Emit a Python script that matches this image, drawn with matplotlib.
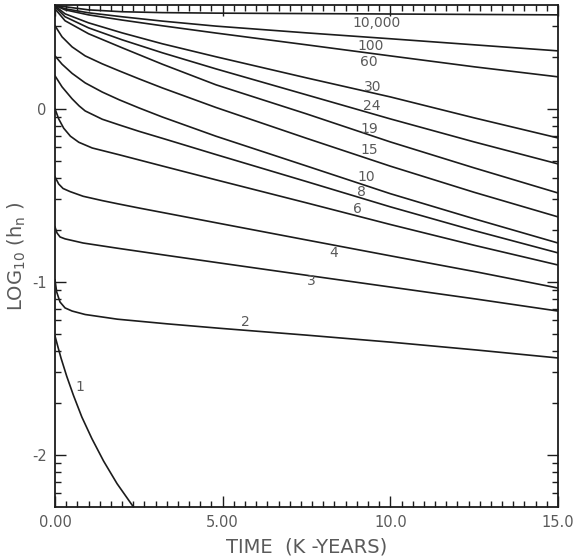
import numpy as np
import matplotlib
matplotlib.use("Agg")
import matplotlib.pyplot as plt

# log10(h_n) vs time (k-years) for each mode number n
t_10000 = [0, 0.3, 1.0, 2.0, 3.2, 4.8, 10.0, 15.0]
h_10000 = [0.598, 0.590, 0.572, 0.561, 0.556, 0.553, 0.548, 0.543]

t_100 = [0, 0.3, 1.0, 2.0, 3.2, 4.8, 7.5, 10.0, 12.5, 15.0]
h_100 = [0.598, 0.578, 0.555, 0.532, 0.507, 0.478, 0.439, 0.405, 0.370, 0.335]

t_60 = [0, 0.3, 1.0, 2.0, 3.2, 4.8, 7.5, 10.0, 12.5, 15.0]
h_60 = [0.598, 0.572, 0.543, 0.513, 0.480, 0.438, 0.370, 0.306, 0.243, 0.185]

t_30 = [0, 0.3, 1.0, 2.0, 3.2, 4.8, 7.5, 10.0, 12.5, 15.0]
h_30 = [0.595, 0.549, 0.497, 0.439, 0.376, 0.301, 0.179, 0.069, -0.052, -0.168]

t_24 = [0, 0.3, 1.0, 2.0, 3.2, 4.8, 7.5, 10.0, 12.5, 15.0]
h_24 = [0.590, 0.532, 0.468, 0.399, 0.324, 0.231, 0.081, -0.058, -0.191, -0.318]

t_19 = [0, 0.3, 1.0, 2.0, 3.2, 4.8, 7.5, 10.0, 12.5, 15.0]
h_19 = [0.578, 0.509, 0.434, 0.353, 0.258, 0.139, -0.029, -0.191, -0.341, -0.486]

t_15 = [0, 0.21, 0.51, 0.9, 1.41, 1.92, 2.51, 3.2, 4.8, 7.5, 10.0, 12.5, 15.0]
h_15 = [0.480, 0.416, 0.358, 0.306, 0.260, 0.219, 0.173, 0.121, 0.008, -0.170, -0.331, -0.482, -0.624]

t_10 = [0, 0.21, 0.51, 0.9, 1.41, 1.92, 2.51, 3.2, 4.8, 7.5, 10.0, 12.5, 15.0]
h_10 = [0.306, 0.258, 0.205, 0.150, 0.097, 0.052, 0.005, -0.047, -0.158, -0.330, -0.490, -0.635, -0.775]

t_8 = [0, 0.21, 0.51, 0.72, 0.9, 1.41, 1.92, 2.51, 3.2, 4.8, 7.5, 10.0, 12.5, 15.0]
h_8 = [0.191, 0.127, 0.058, 0.017, -0.012, -0.060, -0.093, -0.130, -0.170, -0.264, -0.420, -0.566, -0.703, -0.832]

t_6 = [0, 0.11, 0.26, 0.46, 0.71, 1.11, 1.91, 3.2, 4.8, 7.5, 10.0, 12.5, 15.0]
h_6 = [0.0, -0.058, -0.112, -0.158, -0.193, -0.226, -0.265, -0.330, -0.410, -0.543, -0.668, -0.788, -0.902]

t_4 = [0, 0.11, 0.24, 0.45, 0.84, 1.41, 1.86, 2.51, 3.35, 4.94, 7.49, 10.03, 12.57, 15.0]
h_4 = [-0.393, -0.434, -0.460, -0.478, -0.505, -0.530, -0.548, -0.573, -0.604, -0.663, -0.757, -0.850, -0.942, -1.035]

t_3 = [0, 0.06, 0.15, 0.30, 0.84, 1.86, 3.35, 4.94, 7.49, 10.03, 12.57, 15.0]
h_3 = [-0.682, -0.717, -0.740, -0.751, -0.775, -0.805, -0.847, -0.891, -0.961, -1.030, -1.099, -1.168]

t_2 = [0, 0.05, 0.15, 0.30, 0.51, 0.90, 1.86, 3.35, 4.94, 7.49, 10.03, 12.57, 15.0]
h_2 = [-0.988, -1.058, -1.116, -1.150, -1.168, -1.188, -1.215, -1.242, -1.268, -1.307, -1.348, -1.393, -1.439]

t_1 = [0, 0.08, 0.18, 0.35, 0.55, 0.8, 1.1, 1.45, 1.85, 2.34]
h_1 = [-1.312, -1.370, -1.440, -1.545, -1.655, -1.780, -1.905, -2.035, -2.165, -2.300]

# curve labels: text, time, log10(h)
label_text = ["10,000", "100", "60", "30", "24", "19", "15", "10", "8", "6", "4", "3", "2", "1"]
label_t = [9.58, 9.40, 9.37, 9.46, 9.46, 9.37, 9.37, 9.28, 9.13, 9.01, 8.32, 7.63, 5.69, 0.75]
label_h = [0.497, 0.364, 0.272, 0.127, 0.017, -0.116, -0.237, -0.393, -0.480, -0.578, -0.832, -0.994, -1.231, -1.607]

x_major = [0, 5, 10, 15]
x_major_labels = ["0.00", "5.00", "10.0", "15.0"]
y_major = [-2, -1, 0]
y_major_labels = ["-2", "-1", "0"]

plt.rcParams["font.family"] = ["DejaVu Sans"]
plt.rcParams["mathtext.default"] = "regular"
plt.rcParams["axes.unicode_minus"] = False

ink = "#1c1c1c"
txt = "#5a5a5a"

fig = plt.figure(figsize=(5.73, 5.58), dpi=100)
ax = fig.add_axes([55 / 573, 51 / 558, 503 / 573, 502 / 558])

curves = [(t_10000, h_10000), (t_100, h_100), (t_60, h_60), (t_30, h_30),
          (t_24, h_24), (t_19, h_19), (t_15, h_15), (t_10, h_10), (t_8, h_8),
          (t_6, h_6), (t_4, h_4), (t_3, h_3), (t_2, h_2), (t_1, h_1)]
for t, h in curves:
    ax.plot(t, h, color=ink, lw=1.2, solid_joinstyle="round")

for s, tx, hy in zip(label_text, label_t, label_h):
    ax.text(tx, hy, s, fontsize=10, color=txt, ha="center", va="center")

ax.set_xlim(0, 15)
ax.set_ylim(-2.3, 0.6)

ax.set_xticks(x_major)
ax.set_xticklabels(x_major_labels)
ax.set_xticks(np.arange(0, 15.01, 1 / 3), minor=True)
ax.set_yticks(y_major)
ax.set_yticklabels(y_major_labels)
ymin = [n + np.log10(k) for n in range(-3, 1) for k in range(2, 10)]
ax.set_yticks([v for v in ymin if -2.3 <= v <= 0.6], minor=True)

ax.tick_params(which="both", direction="in", top=True, right=True,
               color=ink, width=1.0, labelsize=10.5, labelcolor=txt, pad=6)
ax.tick_params(which="major", length=8)
ax.tick_params(which="minor", length=4.5)
for sp in ax.spines.values():
    sp.set_color(ink)
    sp.set_linewidth(1.3)

ax.set_xlabel("TIME  (K -YEARS)", fontsize=14, color=txt, labelpad=5)
ax.set_ylabel("LOG$_{10}$ (h$_n$ )", fontsize=14, color=txt, labelpad=3)

fig.savefig("out.png", dpi=100)
